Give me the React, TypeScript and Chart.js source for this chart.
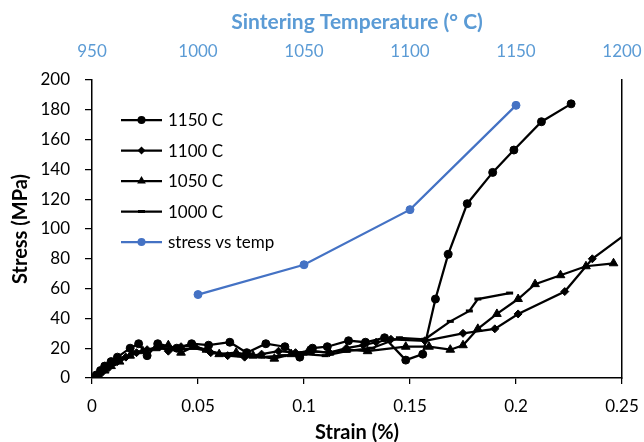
import React, { useEffect, useRef } from "react";
import { Chart, registerables } from "chart.js";
Chart.register(...registerables);

// ---- data ----
const strain1150 = [0.002, 0.004, 0.006, 0.009, 0.012, 0.018, 0.022, 0.026, 0.031, 0.040, 0.047, 0.055, 0.065, 0.073, 0.082, 0.091, 0.098, 0.104, 0.111, 0.121, 0.129, 0.138, 0.148, 0.156, 0.162, 0.168, 0.177, 0.189, 0.199, 0.212, 0.226];
const stress1150 = [2, 5, 8, 11, 14, 20, 23, 15, 23, 20, 23, 22, 24, 17, 23, 21, 14, 20, 21, 25, 24, 27, 12, 16, 53, 83, 117, 138, 153, 172, 184];

const strain1100 = [0.002, 0.005, 0.008, 0.012, 0.016, 0.021, 0.026, 0.032, 0.036, 0.042, 0.048, 0.056, 0.064, 0.072, 0.080, 0.088, 0.096, 0.104, 0.112, 0.120, 0.128, 0.134, 0.141, 0.157, 0.175, 0.190, 0.201, 0.223, 0.236, 0.256];
const stress1100 = [1, 4, 7, 11, 14, 17, 19, 21, 18, 21, 22, 17, 15, 14, 16, 18, 17, 18, 17, 20, 22, 24, 26, 25, 30, 33, 43, 58, 80, 101];

const strain1050 = [0.003, 0.006, 0.009, 0.013, 0.018, 0.024, 0.030, 0.036, 0.042, 0.048, 0.054, 0.060, 0.068, 0.076, 0.086, 0.094, 0.102, 0.112, 0.120, 0.130, 0.148, 0.159, 0.169, 0.175, 0.182, 0.191, 0.201, 0.209, 0.221, 0.233, 0.246];
const stress1050 = [2, 5, 8, 11, 15, 18, 20, 22, 17, 21, 19, 16, 17, 15, 13, 16, 18, 17, 19, 18, 21, 21, 19, 22, 33, 43, 53, 63, 69, 75, 77];

const strain1000 = [0.002, 0.004, 0.007, 0.010, 0.015, 0.020, 0.026, 0.032, 0.040, 0.048, 0.055, 0.062, 0.070, 0.080, 0.090, 0.100, 0.110, 0.120, 0.132, 0.145, 0.157, 0.169, 0.178, 0.182, 0.197];
const stress1000 = [1, 3, 6, 9, 13, 17, 19, 20, 19, 20, 18, 16, 15, 14, 15, 16, 15, 18, 20, 27, 26, 38, 45, 53, 57];

const sinterTemp = [1000, 1050, 1100, 1150];
const sinterStress = [56, 76, 113, 183];

const strainTicks = [0, 0.05, 0.1, 0.15, 0.2, 0.25];
const tempTicks = [950, 1000, 1050, 1100, 1150, 1200];
const stressTicks = [0, 20, 40, 60, 80, 100, 120, 140, 160, 180, 200];

const seriesLabels = ["1150 C", "1100 C", "1050 C", "1000 C", "stress vs temp"];

const zip = (xs: number[], ys: number[]) => xs.map((x, i) => ({ x, y: ys[i] }));

const BLACK = "#000000";
const BLUE = "#4472C4";
const LIGHTBLUE = "#5B9BD5";
const FONT = "Lato, 'Open Sans', sans-serif";

function drawMarker(ctx: CanvasRenderingContext2D, ds: any, x: number, y: number) {
  const r = ds.pointRadius;
  ctx.fillStyle = ds.pointBackgroundColor;
  ctx.strokeStyle = ds.pointBorderColor;
  ctx.lineWidth = ds.pointBorderWidth;
  ctx.beginPath();
  if (ds.pointStyle === "circle") {
    ctx.arc(x, y, r, 0, Math.PI * 2);
    ctx.fill();
  } else if (ds.pointStyle === "rectRot") {
    ctx.moveTo(x, y - r);
    ctx.lineTo(x + r, y);
    ctx.lineTo(x, y + r);
    ctx.lineTo(x - r, y);
    ctx.closePath();
    ctx.fill();
  } else if (ds.pointStyle === "triangle") {
    ctx.moveTo(x, y - r);
    ctx.lineTo(x + r * 0.87, y + r * 0.5);
    ctx.lineTo(x - r * 0.87, y + r * 0.5);
    ctx.closePath();
    ctx.fill();
  } else if (ds.pointStyle === "line") {
    ctx.moveTo(x - r, y);
    ctx.lineTo(x + r, y);
    ctx.stroke();
  }
}

const legendPlugin = {
  id: "insideLegend",
  afterDraw(chart: any) {
    const ctx = chart.ctx;
    const x0 = 121, x1 = 162, tx = 168, y0 = 120, dy = 30.5;
    chart.data.datasets.forEach((ds: any, i: number) => {
      const y = y0 + i * dy;
      ctx.save();
      ctx.strokeStyle = ds.borderColor;
      ctx.lineWidth = ds.borderWidth;
      ctx.beginPath();
      ctx.moveTo(x0, y);
      ctx.lineTo(x1, y);
      ctx.stroke();
      ctx.restore();
      ctx.save();
      drawMarker(ctx, ds, (x0 + x1) / 2, y);
      ctx.restore();
      ctx.save();
      ctx.fillStyle = BLACK;
      ctx.font = `17px ${FONT}`;
      ctx.textBaseline = "middle";
      ctx.fillText(ds.label, tx, y + 1);
      ctx.restore();
    });
  },
};

export default function App() {
  const ref = useRef<HTMLCanvasElement | null>(null);
  useEffect(() => {
    if (!ref.current) return;
    const blackSeries = (label: string, data: any[], style: string, r: number) => ({
      label,
      data,
      xAxisID: "x",
      yAxisID: "y",
      borderColor: BLACK,
      backgroundColor: BLACK,
      borderWidth: 2.25,
      pointStyle: style,
      pointRadius: r,
      pointHoverRadius: r,
      pointBackgroundColor: BLACK,
      pointBorderColor: BLACK,
      pointBorderWidth: style === "line" ? 3 : 1,
      showLine: true,
      tension: 0,
    });
    const chart = new Chart(ref.current, {
      type: "scatter",
      data: {
        datasets: [
          blackSeries(seriesLabels[0], zip(strain1150, stress1150), "circle", 4),
          blackSeries(seriesLabels[1], zip(strain1100, stress1100), "rectRot", 4),
          blackSeries(seriesLabels[2], zip(strain1050, stress1050), "triangle", 5),
          blackSeries(seriesLabels[3], zip(strain1000, stress1000), "line", 3.5),
          {
            label: seriesLabels[4],
            data: zip(sinterTemp, sinterStress),
            xAxisID: "x2",
            yAxisID: "y",
            borderColor: BLUE,
            backgroundColor: BLUE,
            borderWidth: 2.25,
            pointStyle: "circle",
            pointRadius: 4,
            pointHoverRadius: 4,
            pointBackgroundColor: BLUE,
            pointBorderColor: BLUE,
            pointBorderWidth: 1,
            showLine: true,
            tension: 0,
          },
        ] as any,
      },
      options: {
        animation: false,
        responsive: false,
        maintainAspectRatio: false,
        layout: { padding: 0 },
        plugins: { legend: { display: false }, tooltip: { enabled: false } },
        scales: {
          x: {
            type: "linear",
            position: "bottom",
            min: 0,
            max: 0.25,
            afterFit: (s: any) => { s.height = 64; s.paddingLeft = 0; s.paddingRight = 0; },
            afterBuildTicks: (s: any) => { s.ticks = strainTicks.map((v) => ({ value: v })); },
            ticks: {
              color: BLACK,
              font: { family: FONT, size: 17 },
              padding: 12,
              maxRotation: 0,
              callback: (v: any) => String(parseFloat(Number(v).toFixed(2))),
            },
            grid: { drawOnChartArea: false, drawTicks: true, tickLength: 6, color: BLACK, lineWidth: 1.25 },
            border: { display: true, color: BLACK, width: 1.5 },
            title: {
              display: true,
              text: "Strain (%)",
              color: BLACK,
              font: { family: FONT, size: 20, weight: "bold" },
              padding: { top: 0, bottom: -3 },
            },
          },
          x2: {
            type: "linear",
            position: "top",
            min: 950,
            max: 1200,
            afterFit: (s: any) => { s.height = 80; s.paddingLeft = 0; s.paddingRight = 0; },
            afterBuildTicks: (s: any) => { s.ticks = tempTicks.map((v) => ({ value: v })); },
            ticks: {
              color: LIGHTBLUE,
              font: { family: FONT, size: 17 },
              padding: 18,
              maxRotation: 0,
              callback: (v: any) => String(v),
            },
            grid: { display: false, drawTicks: false },
            border: { display: false },
            title: {
              display: true,
              text: "Sintering Temperature (° C)",
              color: LIGHTBLUE,
              font: { family: FONT, size: 21, weight: "bold" },
              padding: { top: 10, bottom: 0 },
            },
          },
          y: {
            type: "linear",
            position: "left",
            min: 0,
            max: 200,
            afterFit: (s: any) => { s.width = 92; },
            afterBuildTicks: (s: any) => { s.ticks = stressTicks.map((v) => ({ value: v })); },
            ticks: {
              color: BLACK,
              font: { family: FONT, size: 17 },
              padding: 15,
            },
            grid: { drawOnChartArea: false, drawTicks: true, tickLength: 7, color: BLACK, lineWidth: 1.25 },
            border: { display: true, color: BLACK, width: 1.5 },
            title: {
              display: true,
              text: "Stress (MPa)",
              color: BLACK,
              font: { family: FONT, size: 20, weight: "bold" },
              padding: { top: 9, bottom: 0 },
            },
          },
          y2: {
            type: "linear",
            position: "right",
            min: 0,
            max: 200,
            afterFit: (s: any) => { s.width = 22; },
            ticks: { display: false },
            grid: { display: false, drawTicks: false },
            border: { display: true, color: BLACK, width: 1.5 },
          },
        },
      } as any,
      plugins: [legendPlugin],
    });
    return () => chart.destroy();
  }, []);
  return (
    <div style={{ position: "fixed", left: 0, top: 0, width: 644, height: 442, background: "#fff" }}>
      <canvas ref={ref} width={644} height={442} style={{ width: 644, height: 442 }} />
    </div>
  );
}
